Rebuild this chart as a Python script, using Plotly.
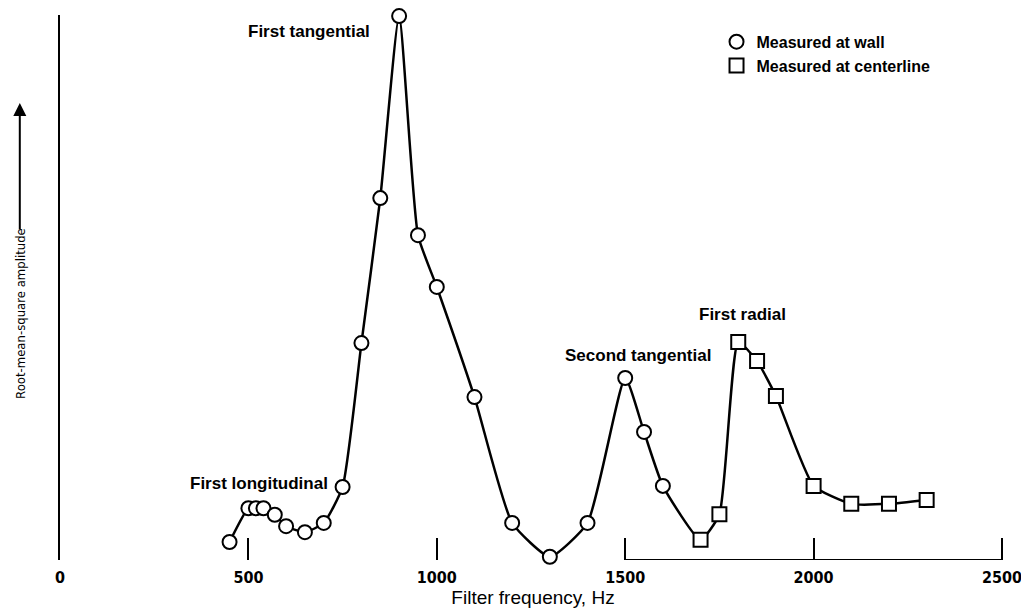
import plotly.graph_objects as go

# ---- data ----
wall_freq = [450, 500, 520, 540, 570, 600, 650, 700, 750, 800, 850, 900, 950, 1000,
             1100, 1200, 1300, 1400, 1500, 1550, 1600]
wall_amp = [3.3, 9.5, 9.5, 9.5, 8.3, 6.2, 5.1, 6.8, 13.4, 39.8, 66.4, 99.8, 59.6, 50.1,
            29.9, 6.8, 0.6, 6.8, 33.4, 23.5, 13.6]
center_freq = [1700, 1750, 1800, 1850, 1900, 2000, 2100, 2200, 2300]
center_amp = [3.7, 8.4, 40.0, 36.5, 30.1, 13.6, 10.3, 10.3, 11.0]
tick_vals = [0, 500, 1000, 1500, 2000, 2500]
tick_text = ["0", "500", "1000", "1500", "2000", "2500"]

NARROW = "Liberation Sans Narrow, DejaVu Sans Condensed, Arial Narrow, sans-serif"
SANS = "Liberation Sans, Arial, sans-serif"

fig = go.Figure()

# smooth faired curve through all points
fig.add_trace(go.Scatter(
    x=wall_freq + center_freq, y=wall_amp + center_amp,
    mode="lines", line=dict(color="black", width=2.5, shape="spline", smoothing=0.5),
    showlegend=False, hoverinfo="skip", cliponaxis=False))

fig.add_trace(go.Scatter(
    x=wall_freq, y=wall_amp, mode="markers", name="Measured at wall",
    marker=dict(symbol="circle", size=14, color="white",
                line=dict(color="black", width=2)),
    cliponaxis=False))
fig.add_trace(go.Scatter(
    x=center_freq, y=center_amp, mode="markers", name="Measured at centerline",
    marker=dict(symbol="square", size=14, color="white",
                line=dict(color="black", width=2)),
    cliponaxis=False))

ann_font = dict(family=SANS, size=17, color="black", weight="bold")
annotations = [
    dict(x=828, y=96.9, text="First tangential", xanchor="right"),
    dict(x=716, y=14.1, text="First longitudinal", xanchor="right"),
    dict(x=1335, y=37.6, text="Second tangential", xanchor="left"),
    dict(x=1690, y=45.0, text="First radial", xanchor="left"),
]
for a in annotations:
    fig.add_annotation(x=a["x"], y=a["y"], text=a["text"], xanchor=a["xanchor"],
                       yanchor="middle", showarrow=False, font=ann_font)

# y-axis title with arrow
fig.add_annotation(x=-0.0425, y=0.453, xref="paper", yref="paper",
                   text="Root-mean-square amplitude", textangle=-90,
                   xanchor="center", yanchor="middle",
                   showarrow=False, font=dict(family=NARROW, size=13, color="black"))
fig.add_annotation(x=-0.0425, y=0.8385, xref="paper", yref="paper", text="",
                   showarrow=True, arrowhead=2, arrowsize=1.3, arrowwidth=2,
                   arrowcolor="black", ax=0, ay=128)

# partial baseline
fig.add_shape(type="line", xref="x", yref="y", x0=1500, x1=2500, y0=0, y1=0,
              line=dict(color="black", width=2))

fig.update_layout(
    width=1021, height=608,
    margin=dict(l=60, r=15, t=15, b=48),
    plot_bgcolor="white", paper_bgcolor="white",
    showlegend=True,
    legend=dict(x=0.694, y=0.982, xanchor="left", yanchor="top",
                font=dict(family=SANS, size=16, color="black", weight="bold"),
                bgcolor="rgba(0,0,0,0)", tracegroupgap=0, itemwidth=30),
    xaxis=dict(range=[0, 2510.6], tickvals=tick_vals, ticktext=tick_text,
               ticks="inside", ticklen=22, tickwidth=2, tickcolor="black",
               showline=False, showgrid=False, zeroline=False,
               automargin=False, ticklabeloverflow="allow",
               ticklabelstandoff=6,
               tickfont=dict(family=NARROW, size=16, color="black", weight="bold"),
               title=dict(text="Filter frequency, Hz", standoff=8,
                          font=dict(family=SANS, size=19, color="black"))),
    yaxis=dict(range=[0, 100], showline=True, linecolor="black", linewidth=2,
               showticklabels=False, ticks="", showgrid=False, zeroline=False,
               automargin=False),
)

fig.write_html("out.html")
